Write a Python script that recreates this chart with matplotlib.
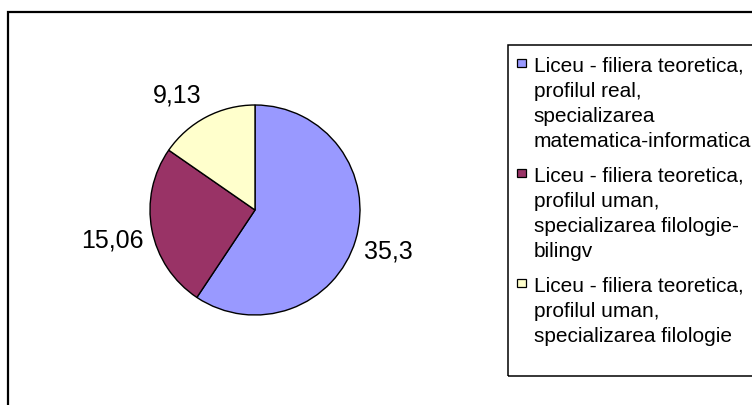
import matplotlib.pyplot as plt
from matplotlib.patches import Rectangle

# data
categories = [
    ["Liceu - filiera teoretica,", "profilul real,", "specializarea",
     "matematica-informatica"],
    ["Liceu - filiera teoretica,", "profilul uman,", "specializarea filologie-",
     "bilingv"],
    ["Liceu - filiera teoretica,", "profilul uman,", "specializarea filologie"],
]
values = [35.3, 15.06, 9.13]
colors = ['#9999FF', '#993366', '#FFFFCC']

# label positions in pie units (radius = 1)
label_pos = [(1.267, -0.457), (-1.362, -0.352), (-0.743, 1.029)]

plt.rcParams['font.family'] = ['Liberation Sans', 'DejaVu Sans']

W, H = 752, 406
fig = plt.figure(figsize=(W / 100, H / 100), dpi=100)


def fx(x):
    return x / W


def fy(y):
    return 1 - y / H


# outer chart frame (runs off the right and bottom edges)
fig.patches.append(Rectangle((fx(8), fy(430)), fx(820) - fx(8), fy(12.5) - fy(430),
                             transform=fig.transFigure, fill=False,
                             ec='black', lw=1.6))

# pie
ax = fig.add_axes([fx(150), fy(316), 210 / W, 210 / H])
ax.pie(values, colors=colors, startangle=90, counterclock=False,
       wedgeprops=dict(edgecolor='black', linewidth=1.0))
ax.set_xlim(-1, 1)
ax.set_ylim(-1, 1)
ax.set_aspect('equal')
ax.axis('off')

for v, (lx, ly) in zip(values, label_pos):
    ax.text(lx, ly, str(v).replace('.', ','), ha='center', va='baseline',
            fontsize=18, clip_on=False)

# legend box
fig.patches.append(Rectangle((fx(508), fy(377)), fx(820) - fx(508), fy(45.5) - fy(377),
                             transform=fig.transFigure, fill=False,
                             ec='black', lw=1.1))

line_h = 25
gap = 35
base = 71.7
for lines, c in zip(categories, colors):
    fig.patches.append(Rectangle((fx(517), fy(base - 3.5)), 8.5 / W, 8.5 / H,
                                 transform=fig.transFigure, fc=c,
                                 ec='black', lw=0.9))
    for j, t in enumerate(lines):
        fig.text(fx(533.5), fy(base + j * line_h), t, ha='left', va='baseline',
                 fontsize=15)
    base += (len(lines) - 1) * line_h + gap

fig.savefig('out.png', dpi=100)
